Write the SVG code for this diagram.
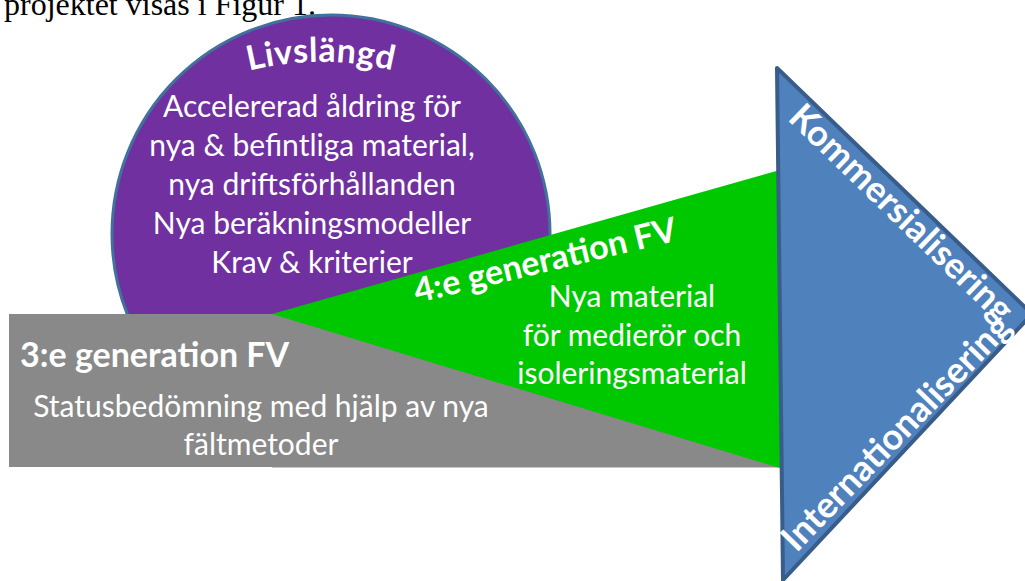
<svg xmlns="http://www.w3.org/2000/svg" width="1025" height="581" viewBox="0 0 1025 581">
  <style>
    .t { font-family: Lato, "Liberation Sans", sans-serif; fill: #ffffff; }
    .reg { font-size: 30px; font-weight: normal; text-anchor: middle; }
    .bold { font-size: 34px; font-weight: bold; }
    .blue { font-size: 36px; font-weight: bold; text-anchor: middle; }
  </style>
  <defs>
    <path id="arcLiv" d="M 230 76 A 300 300 0 0 1 412 76"/>
  </defs>
  <rect x="0" y="0" width="1025" height="581" fill="#ffffff"/>
  <text x="4" y="15" font-family="'Liberation Serif', serif" font-size="32" fill="#000000">projektet visas i Figur 1.</text>

  <g id="node-livslangd">
    <circle cx="331" cy="234" r="219" fill="#7030A0" stroke="#41719C" stroke-width="3"/>
    <text class="t bold" font-size="29" letter-spacing="0.5" text-anchor="middle"><textPath href="#arcLiv" startOffset="50%">Livslängd</textPath></text>
    <text class="t reg" x="312" y="117">Accelererad åldring för</text>
    <text class="t reg" x="312" y="156">nya &amp; befintliga material,</text>
    <text class="t reg" x="312" y="195">nya driftsförhållanden</text>
    <text class="t reg" x="312" y="234">Nya beräkningsmodeller</text>
    <text class="t reg" x="312" y="273">Krav &amp; kriterier</text>
  </g>

  <g id="node-gen3">
    <rect x="9" y="314" width="771" height="153" fill="#898989"/>
    <line x1="272" y1="467.5" x2="780" y2="467.5" stroke="#c8c8c8" stroke-width="1"/>
    <text class="t bold" x="20" y="367">3:e generation FV</text>
    <text class="t reg" x="261" y="417">Statusbedömning med hjälp av nya</text>
    <text class="t reg" x="261" y="455">fältmetoder</text>
  </g>

  <g id="node-gen4">
    <polygon points="272,314 780,170 780,468" fill="#00C800"/>
    <text class="t bold" x="0" y="0" transform="translate(417,303) rotate(-13.5)">4:e generation FV</text>
    <text class="t reg" x="632" y="307">Nya material</text>
    <text class="t reg" x="632" y="345.5">för medierör och</text>
    <text class="t reg" x="632" y="384">isoleringsmaterial</text>
  </g>

  <g id="node-komm">
    <polygon points="777,68 1032,314 783,580" fill="#4F81BD" stroke="#385D8A" stroke-width="4" stroke-linejoin="round"/>
    <text class="t blue" transform="translate(893,222) rotate(44)">Kommersialisering</text>
    <text class="t blue" transform="translate(905,441) rotate(-46)">Internationalisering</text>
  </g>
</svg>
